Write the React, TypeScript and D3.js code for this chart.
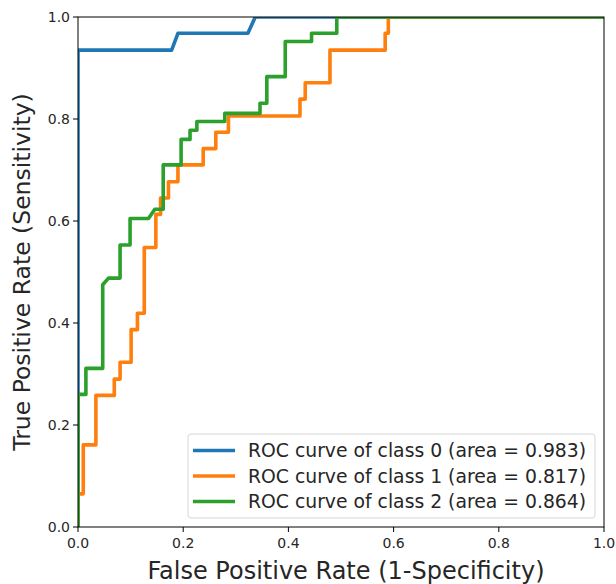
import React from "react"
import * as d3 from "d3"

type Pt = [number, number]

// ROC points, [false positive rate, true positive rate]
const class0Points: Pt[] = [
  [0, 0], [0, 0.935], [0.178, 0.935], [0.19, 0.968], [0.323, 0.968], [0.337, 1], [1, 1],
]

const class1Points: Pt[] = [
  [0, 0], [0, 0.065], [0.01, 0.065], [0.01, 0.161], [0.034, 0.161], [0.034, 0.258],
  [0.069, 0.258], [0.069, 0.29], [0.08, 0.29], [0.08, 0.323], [0.101, 0.323], [0.101, 0.387],
  [0.113, 0.387], [0.113, 0.419], [0.126, 0.419], [0.126, 0.548], [0.148, 0.548], [0.148, 0.613],
  [0.157, 0.613], [0.157, 0.645], [0.172, 0.645], [0.172, 0.677], [0.19, 0.677], [0.19, 0.71],
  [0.238, 0.71], [0.238, 0.742], [0.262, 0.742], [0.262, 0.774], [0.286, 0.774], [0.286, 0.806],
  [0.422, 0.806], [0.422, 0.839], [0.432, 0.839], [0.432, 0.871], [0.479, 0.871], [0.479, 0.935],
  [0.584, 0.935], [0.584, 0.968], [0.59, 0.968], [0.59, 1], [1, 1],
]

const class2Points: Pt[] = [
  [0, 0], [0, 0.26], [0.015, 0.26], [0.015, 0.311], [0.047, 0.311], [0.047, 0.475],
  [0.058, 0.488], [0.08, 0.488], [0.08, 0.553], [0.099, 0.553], [0.099, 0.605], [0.134, 0.605],
  [0.146, 0.623], [0.162, 0.623], [0.162, 0.71], [0.196, 0.71], [0.196, 0.76], [0.213, 0.76],
  [0.213, 0.778], [0.226, 0.778], [0.226, 0.795], [0.279, 0.795], [0.279, 0.811], [0.346, 0.811],
  [0.346, 0.831], [0.359, 0.831], [0.359, 0.883], [0.394, 0.883], [0.394, 0.952], [0.444, 0.952],
  [0.444, 0.968], [0.492, 0.968], [0.492, 1], [1, 1],
]

const seriesNames = [
  "ROC curve of class 0 (area = 0.983)",
  "ROC curve of class 1 (area = 0.817)",
  "ROC curve of class 2 (area = 0.864)",
]
const seriesColors = ["#1f77b4", "#ff7f0e", "#2ca02c"]
const allSeries = [class0Points, class1Points, class2Points]

const tickValues = [0, 0.2, 0.4, 0.6, 0.8, 1.0]

const font = "DejaVu Sans, sans-serif"

const App = () => {
  const width = 616
  const height = 584
  const margin = { top: 17, right: 12, bottom: 57, left: 78 }
  const innerWidth = width - margin.left - margin.right
  const innerHeight = height - margin.top - margin.bottom

  const xScale = d3.scaleLinear().domain([0, 1]).range([0, innerWidth])
  const yScale = d3.scaleLinear().domain([0, 1]).range([innerHeight, 0])

  const line = d3
    .line<Pt>()
    .x((d) => xScale(d[0]))
    .y((d) => yScale(d[1]))

  // legend box
  const lg = { x: 110, y: 417, w: 407, h: 84 }
  const rowGap = 25.5

  return (
    <svg
      width={width}
      height={height}
      style={{ position: "absolute", left: 0, top: 0, background: "white" }}
    >
      <defs>
        <clipPath id="plot-clip">
          <rect x={0} y={0} width={innerWidth} height={innerHeight} />
        </clipPath>
      </defs>
      <g transform={`translate(${margin.left}, ${margin.top})`}>
        <g clipPath="url(#plot-clip)">
          {allSeries.map((pts, i) => (
            <path
              key={i}
              d={line(pts) || ""}
              fill="none"
              stroke={seriesColors[i]}
              strokeWidth={3.6}
              strokeLinejoin="round"
            />
          ))}
        </g>

        <rect
          x={0}
          y={0}
          width={innerWidth}
          height={innerHeight}
          fill="none"
          stroke="black"
          strokeWidth={1}
        />

        {tickValues.map((t) => (
          <g key={"x" + t} transform={`translate(${xScale(t)}, ${innerHeight})`}>
            <line y2={5} stroke="black" />
            <text
              y={21}
              textAnchor="middle"
              fontFamily={font}
              fontSize={14}
              fill="#262626"
            >
              {t.toFixed(1)}
            </text>
          </g>
        ))}
        {tickValues.map((t) => (
          <g key={"y" + t} transform={`translate(0, ${yScale(t)})`}>
            <line x2={-5} stroke="black" />
            <text
              x={-8}
              dy="0.35em"
              textAnchor="end"
              fontFamily={font}
              fontSize={14}
              fill="#262626"
            >
              {t.toFixed(1)}
            </text>
          </g>
        ))}

        <text
          x={innerWidth / 2 + 5}
          y={innerHeight + 52}
          textAnchor="middle"
          fontFamily={font}
          fontSize={24}
          fill="#262626"
        >
          False Positive Rate (1-Specificity)
        </text>
        <text
          transform={`translate(${-56}, ${innerHeight / 2}) rotate(-90)`}
          textAnchor="middle"
          dy="0.35em"
          fontFamily={font}
          fontSize={23.5}
          fill="#262626"
        >
          True Positive Rate (Sensitivity)
        </text>

        <g transform={`translate(${lg.x}, ${lg.y})`}>
          <rect
            width={lg.w}
            height={lg.h}
            rx={3}
            fill="white"
            fillOpacity={0.8}
            stroke="#d6d6d6"
          />
          {seriesNames.map((name, i) => (
            <g key={name} transform={`translate(0, ${16.5 + i * rowGap})`}>
              <line x1={5} x2={47} stroke={seriesColors[i]} strokeWidth={3.6} />
              <text
                x={60}
                dy="0.35em"
                fontFamily={font}
                fontSize={18.8}
                fill="#262626"
              >
                {name}
              </text>
            </g>
          ))}
        </g>
      </g>
    </svg>
  )
}

export default App
